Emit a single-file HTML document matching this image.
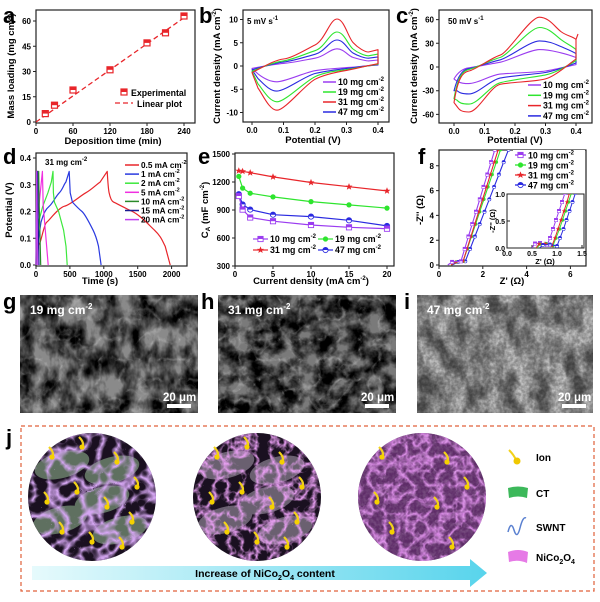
<!DOCTYPE html>
<html><head><meta charset="utf-8"><style>
html,body{margin:0;padding:0;background:#fff;width:600px;height:602px;overflow:hidden}
svg{display:block;font-family:"Liberation Sans",Arial,sans-serif;font-weight:bold}
.t{font-size:8px}.ti{font-size:9.5px}.L{font-size:22px}.lg{font-size:8.8px}.lgd{font-size:8.2px}
.ax{fill:none;stroke:#222;stroke-width:1.2}
.tk{stroke:#222;stroke-width:1}
</style></head><body>
<svg width="600" height="602" viewBox="0 0 600 602" xmlns="http://www.w3.org/2000/svg">
<defs>
<filter id="sem1" x="0" y="0" width="100%" height="100%"><feTurbulence type="fractalNoise" baseFrequency="0.06 0.04" numOctaves="4" seed="3"/><feColorMatrix type="matrix" values="0 0 0 0 0  0 0 0 0 0  0 0 0 0 0  2.4 0 0 0 -0.75"/></filter>
<filter id="sem2" x="0" y="0" width="100%" height="100%"><feTurbulence type="fractalNoise" baseFrequency="0.06" numOctaves="4" seed="8"/><feColorMatrix type="matrix" values="0 0 0 0 0  0 0 0 0 0  0 0 0 0 0  2.6 0 0 0 -0.8"/></filter>
<filter id="semL" x="0" y="0" width="100%" height="100%"><feTurbulence type="turbulence" baseFrequency="0.05" numOctaves="3" seed="4"/><feColorMatrix type="matrix" values="0 0 0 0 0.85  0 0 0 0 0.85  0 0 0 0 0.85  -2.5 0 0 0 0.55"/></filter>
<filter id="sem3" x="0" y="0" width="100%" height="100%"><feTurbulence type="fractalNoise" baseFrequency="0.3" numOctaves="2" seed="5"/><feColorMatrix type="matrix" values="0 0 0 0 1  0 0 0 0 1  0 0 0 0 1  1.0 0 0 0 -0.3"/></filter>
<filter id="net" x="0" y="0" width="100%" height="100%"><feTurbulence type="turbulence" baseFrequency="0.06" numOctaves="2" seed="2"/><feColorMatrix type="matrix" values="0 0 0 0 0.66  0 0 0 0 0.38  0 0 0 0 0.88  -3 0 0 0 1.1"/></filter>
<filter id="net2" x="0" y="0" width="100%" height="100%"><feTurbulence type="turbulence" baseFrequency="0.07" numOctaves="3" seed="9"/><feColorMatrix type="matrix" values="0 0 0 0 0.82  0 0 0 0 0.35  0 0 0 0 0.9  -3 0 0 0 1.1"/></filter>
<clipPath id="c1"><circle cx="92" cy="497" r="64"/></clipPath>
<clipPath id="c2"><circle cx="257" cy="497" r="64"/></clipPath>
<clipPath id="c3"><circle cx="422" cy="497" r="64"/></clipPath>
<clipPath id="fc"><rect x="439" y="150" width="147" height="116"/></clipPath>
<clipPath id="ic"><rect x="507" y="194" width="77" height="54"/></clipPath>
<linearGradient id="ag" x1="0" x2="1"><stop offset="0" stop-color="#e6fafc"/><stop offset="1" stop-color="#58d4ec"/></linearGradient>
<marker id="mSq" viewBox="-4 -4 8 8" markerWidth="7" markerHeight="7" markerUnits="userSpaceOnUse"><rect x="-3" y="-3" width="6" height="6" fill="#fff" stroke="#9b3cf0"/><rect x="-3" y="-3" width="6" height="3" fill="#9b3cf0"/></marker>
<marker id="mCi" viewBox="-4 -4 8 8" markerWidth="7" markerHeight="7" markerUnits="userSpaceOnUse"><circle r="3" fill="#2ee52e"/></marker>
<marker id="mSt" viewBox="-4 -4 8 8" markerWidth="8" markerHeight="8" markerUnits="userSpaceOnUse"><polygon points="0,-3.6 1,-1.1 3.5,-1.1 1.5,0.5 2.2,3 0,1.5 -2.2,3 -1.5,0.5 -3.5,-1.1 -1,-1.1" fill="#e8252a"/></marker>
<marker id="mHc" viewBox="-4 -4 8 8" markerWidth="7" markerHeight="7" markerUnits="userSpaceOnUse"><circle r="3" fill="#fff" stroke="#2a2ae0"/><path d="M-3,0A3,3 0 0 1 3,0Z" fill="#2a2ae0"/></marker>
<marker id="sSq" viewBox="-4 -4 8 8" markerWidth="4.5" markerHeight="4.5" markerUnits="userSpaceOnUse"><rect x="-3" y="-3" width="6" height="6" fill="#fff" stroke="#9b3cf0"/><rect x="-3" y="-3" width="6" height="3" fill="#9b3cf0"/></marker>
<marker id="sCi" viewBox="-4 -4 8 8" markerWidth="4.5" markerHeight="4.5" markerUnits="userSpaceOnUse"><circle r="3" fill="#2ee52e"/></marker>
<marker id="sSt" viewBox="-4 -4 8 8" markerWidth="5" markerHeight="5" markerUnits="userSpaceOnUse"><polygon points="0,-3.6 1,-1.1 3.5,-1.1 1.5,0.5 2.2,3 0,1.5 -2.2,3 -1.5,0.5 -3.5,-1.1 -1,-1.1" fill="#e8252a"/></marker>
<marker id="sHc" viewBox="-4 -4 8 8" markerWidth="4.5" markerHeight="4.5" markerUnits="userSpaceOnUse"><circle r="3" fill="#fff" stroke="#2a2ae0"/><path d="M-3,0A3,3 0 0 1 3,0Z" fill="#2a2ae0"/></marker>
</defs>

<!-- ===== a ===== -->
<rect class="ax" x="36" y="10" width="159" height="113"/>
<g class="tk"><path d="M36,123v3M73,123v3M110,123v3M147,123v3M184,123v3M33,122h3M33,96.8h3M33,71.5h3M33,46.3h3M33,21h3"/></g>
<g class="t" text-anchor="middle"><text x="36" y="134">0</text><text x="73" y="134">60</text><text x="110" y="134">120</text><text x="147" y="134">180</text><text x="184" y="134">240</text></g>
<g class="t" text-anchor="end"><text x="31" y="125">0</text><text x="31" y="100">15</text><text x="31" y="74.5">30</text><text x="31" y="49.3">45</text><text x="31" y="24">60</text></g>
<path d="M36,122L184,17.7" stroke="#e8252a" stroke-width="1.3" stroke-dasharray="5,3" fill="none"/>
<g fill="#fff" stroke="#e8252a" stroke-width="1.2">
<rect x="42.3" y="110.6" width="6" height="6"/><rect x="51.5" y="102.2" width="6" height="6"/><rect x="70" y="87" width="6" height="6"/><rect x="107" y="66.8" width="6" height="6"/><rect x="144" y="39.9" width="6" height="6"/><rect x="162.5" y="29.8" width="6" height="6"/><rect x="181" y="13" width="6" height="6"/><rect x="121" y="89" width="6" height="6"/></g>
<g fill="#e8252a"><rect x="42.3" y="110.6" width="6" height="3"/><rect x="51.5" y="102.2" width="6" height="3"/><rect x="70" y="87" width="6" height="3"/><rect x="107" y="66.8" width="6" height="3"/><rect x="144" y="39.9" width="6" height="3"/><rect x="162.5" y="29.8" width="6" height="3"/><rect x="181" y="13" width="6" height="3"/><rect x="121" y="89" width="6" height="3"/></g>
<text class="lg" x="131" y="96">Experimental</text>
<path d="M115,103H133" stroke="#e8252a" stroke-width="1.3" stroke-dasharray="5,3"/>
<text class="lg" x="137" y="107">Linear plot</text>
<text class="ti" x="113" y="144" text-anchor="middle">Deposition time (min)</text>
<text class="ti" transform="translate(14,66) rotate(-90)" text-anchor="middle">Mass loading (mg cm<tspan font-size="6" dy="-4">-2</tspan><tspan dy="4">)</tspan></text>
<text class="L" x="3" y="23">a</text>

<!-- ===== b ===== -->
<rect class="ax" x="243" y="10" width="146" height="112"/>
<g class="tk"><path d="M252,122v3M283.5,122v3M315,122v3M346.5,122v3M378,122v3M240,112.5h3M240,89.3h3M240,66h3M240,42.8h3M240,19.5h3"/></g>
<g class="t" text-anchor="middle"><text x="252" y="133">0.0</text><text x="283.5" y="133">0.1</text><text x="315" y="133">0.2</text><text x="346.5" y="133">0.3</text><text x="378" y="133">0.4</text></g>
<g class="t" text-anchor="end"><text x="238" y="115.5">-10</text><text x="238" y="92.3">-5</text><text x="238" y="69">0</text><text x="238" y="45.8">5</text><text x="238" y="22.5">10</text></g>
<g fill="none" stroke-width="1.1" stroke-linejoin="round">
<path stroke="#9b3cf0" d="M252,68.4 C265,66 275,64 283.5,63.4 S305,60 315,58.2 S330,48.8 337,48.8 S348,56 353,57.4 S365,60.9 368.5,60.9 L378,60 L378,65.1 C365,66 355,67 346.5,67.6 S325,69 315,70.7 S285,81.8 277,81.8 S262,77 258,73.9 Z"/>
<path stroke="#2a2ae0" d="M252,69.8 C265,66 275,63 283.5,62.1 S305,57 315,54.3 S330,40 337,40 S348,50 353,53 S365,58.2 368.5,58.2 L378,56.9 L378,64.7 C365,66 355,67.5 346.5,68.5 S325,71 315,73.5 S285,91.1 277,91.1 S262,82 258,78.6 Z"/>
<path stroke="#2ee52e" d="M252,71.3 C265,66 275,62 283.5,60.9 S305,54 315,50.7 S330,32 337,32 S348,45 353,49 S365,55.8 368.5,55.8 L378,54.1 L378,64.3 C365,66 355,68.5 346.5,69.6 S325,72 315,76.7 S285,101.8 277,101.8 S262,88 258,83.9 Z"/>
<path stroke="#e8252a" d="M252,72.6 C265,66 275,60 283.5,59 S305,50 315,45 S330,19 337,19 S348,37 353,42.5 S365,52 368.5,52 L378,49.7 L378,63.7 C365,66 355,69 346.5,70.4 S325,74 315,79.3 S285,110.2 277,110.2 S262,93 258,88.1 Z"/>
</g>
<g stroke-width="1.5"><path d="M323,82H336" stroke="#9b3cf0"/><path d="M323,92H336" stroke="#2ee52e"/><path d="M323,102H336" stroke="#e8252a"/><path d="M323,112H336" stroke="#2a2ae0"/></g>
<g class="lg"><text x="338" y="85">10 mg cm<tspan font-size="6" dy="-4">-2</tspan></text><text x="338" y="95">19 mg cm<tspan font-size="6" dy="-4">-2</tspan></text><text x="338" y="105">31 mg cm<tspan font-size="6" dy="-4">-2</tspan></text><text x="338" y="115">47 mg cm<tspan font-size="6" dy="-4">-2</tspan></text></g>
<text class="t" x="247" y="24">5 mV s<tspan font-size="6" dy="-4">-1</tspan></text>
<text class="ti" x="313" y="143" text-anchor="middle">Potential (V)</text>
<text class="ti" transform="translate(220,66) rotate(-90)" text-anchor="middle">Current density (mA cm<tspan font-size="6" dy="-4">-2</tspan><tspan dy="4">)</tspan></text>
<text class="L" x="199" y="23">b</text>

<!-- ===== c ===== -->
<rect class="ax" x="439" y="10" width="153" height="113"/>
<g class="tk"><path d="M454,123v3M484.5,123v3M515,123v3M545.5,123v3M576,123v3M436,114.4h3M436,90.7h3M436,67h3M436,43.3h3M436,19.6h3"/></g>
<g class="t" text-anchor="middle"><text x="454" y="134">0.0</text><text x="484.5" y="134">0.1</text><text x="515" y="134">0.2</text><text x="545.5" y="134">0.3</text><text x="576" y="134">0.4</text></g>
<g class="t" text-anchor="end"><text x="434" y="117.4">-60</text><text x="434" y="93.7">-30</text><text x="434" y="70">0</text><text x="434" y="46.3">30</text><text x="434" y="22.6">60</text></g>
<g fill="none" stroke-width="1.1" stroke-linejoin="round">
<path stroke="#9b3cf0" d="M454,78.9 C458,72 463,68.5 469,67.8 S492,63.5 500,62.3 S530,49.6 539.4,49.6 S555,51.5 560.8,52.8 S572,56 576,57.5 L576,64.6 C565,67 555,69.5 545.5,71 S510,73 500,74.1 S478,83.6 469,83.6 S459,82 457,81.2 Z"/>
<path stroke="#2a2ae0" d="M454,90.7 C458,75 463,69.5 469,68.6 S492,61.5 500,59.9 S530,40.9 539.4,40.9 S555,44 560.8,46.5 S572,51 576,53.6 L576,63 C565,67 555,71 545.5,72.5 S510,76 500,78.1 S478,93.9 469,93.9 S459,92 457,90.7 Z"/>
<path stroke="#2ee52e" d="M454,98.6 C458,76 463,70.5 469,69.4 S492,59.5 500,57.5 S530,27.5 539.4,27.5 S555,35 560.8,39.4 S572,46 576,49.6 L576,60.7 C565,67 555,73 545.5,74.9 S510,80 500,82.8 S478,104.1 469,104.1 S459,102 457,100.2 Z"/>
<path stroke="#e8252a" d="M454,102.6 C458,77 463,72 469,71 S492,57.5 500,55.2 S530,17.2 539.4,17.2 S555,27 560.8,31.5 S572,36 576,39.4 L576,59.1 C565,67 555,76 545.5,78.9 S510,82 500,84.4 S478,112 469,112 S459,109 457,106.5 Z"/>
<path stroke="#e8252a" d="M576,39.4L578,34"/>
</g>
<g stroke-width="1.5"><path d="M528,85H541" stroke="#9b3cf0"/><path d="M528,95.3H541" stroke="#2ee52e"/><path d="M528,105.6H541" stroke="#e8252a"/><path d="M528,115.9H541" stroke="#2a2ae0"/></g>
<g class="lg"><text x="543" y="88">10 mg cm<tspan font-size="6" dy="-4">-2</tspan></text><text x="543" y="98.3">19 mg cm<tspan font-size="6" dy="-4">-2</tspan></text><text x="543" y="108.6">31 mg cm<tspan font-size="6" dy="-4">-2</tspan></text><text x="543" y="118.9">47 mg cm<tspan font-size="6" dy="-4">-2</tspan></text></g>
<text class="t" x="448" y="24">50 mV s<tspan font-size="6" dy="-4">-1</tspan></text>
<text class="ti" x="515" y="143" text-anchor="middle">Potential (V)</text>
<text class="ti" transform="translate(417,66) rotate(-90)" text-anchor="middle">Current density (mA cm<tspan font-size="6" dy="-4">-2</tspan><tspan dy="4">)</tspan></text>
<text class="L" x="396" y="23">c</text>

<!-- ===== d ===== -->
<rect class="ax" x="36" y="153" width="151" height="113"/>
<g class="tk"><path d="M36,266v3M69.9,266v3M103.8,266v3M137.7,266v3M171.6,266v3M33,265h3M33,238.3h3M33,211.5h3M33,184.8h3M33,158h3"/></g>
<g class="t" text-anchor="middle"><text x="36" y="277">0</text><text x="69.9" y="277">500</text><text x="103.8" y="277">1000</text><text x="137.7" y="277">1500</text><text x="171.6" y="277">2000</text></g>
<g class="t" text-anchor="end"><text x="31" y="268">0.0</text><text x="31" y="241.3">0.1</text><text x="31" y="214.5">0.2</text><text x="31" y="187.8">0.3</text><text x="31" y="161">0.4</text></g>
<g fill="none" stroke-width="1.2" stroke-linejoin="round">
<path stroke="#e8252a" d="M36,265 C37,250 38,245 39.5,243.6 S44,224 46.7,222.2 S58,208 64.5,206.2 S80,196 85.8,192.8 S97,184 100.1,182.1 L107.2,171.4 C108,185 108.5,190 109.1,192.8 S111,201 113.5,202.1 S125,208 132.4,211.5 S148,224 154.5,230.2 S162,240 165.2,246.3 L170.2,265"/>
<path stroke="#2a3ae0" d="M36,265 L37.7,243.6 L41,222.2 C44,212 46,209 49.3,206.2 S56,196 59.3,192.8 S64,184 65.9,182.1 L69.2,171.4 L70.2,192.8 L72.4,202.1 C76,206 79,209 82,211.5 S90,224 93.1,230.2 S97,240 98.5,246.3 L101.1,265"/>
<path stroke="#3de83d" d="M36,265 L36.8,243.6 L38.5,222.2 L42.8,206.2 L47.9,192.8 L51.3,182.1 L53,171.4 L53.4,192.8 L54.4,202.1 L58.6,211.5 L63.6,230.2 L66,246.3 L67.2,265"/>
<path stroke="#f030e0" d="M36,265 L37,225 L42.4,171.4 L43.2,205 L48.2,265"/>
<path stroke="#2a8a2a" d="M36,265 L36.5,220 L38.7,171.4 L39.2,205 L40.7,265"/>
<path stroke="#1a1a90" d="M36,265 L36.3,220 L37.5,171.4 L37.9,205 L39,265"/>
<path stroke="#c040f0" d="M36,265 L36.7,171.4 L37.7,265"/>
</g>
<g stroke-width="1.5"><path d="M125,165H139" stroke="#e8252a"/><path d="M125,174.1H139" stroke="#2a3ae0"/><path d="M125,183.2H139" stroke="#3de83d"/><path d="M125,192.3H139" stroke="#f030e0"/><path d="M125,201.4H139" stroke="#2a8a2a"/><path d="M125,210.5H139" stroke="#1a1a90"/><path d="M125,219.6H139" stroke="#c040f0"/></g>
<g class="lgd"><text x="141" y="168">0.5 mA cm<tspan font-size="5.5" dy="-4">-2</tspan></text><text x="141" y="177.1">1 mA cm<tspan font-size="5.5" dy="-4">-2</tspan></text><text x="141" y="186.2">2 mA cm<tspan font-size="5.5" dy="-4">-2</tspan></text><text x="141" y="195.3">5 mA cm<tspan font-size="5.5" dy="-4">-2</tspan></text><text x="141" y="204.4">10 mA cm<tspan font-size="5.5" dy="-4">-2</tspan></text><text x="141" y="213.5">15 mA cm<tspan font-size="5.5" dy="-4">-2</tspan></text><text x="141" y="222.6">20 mA cm<tspan font-size="5.5" dy="-4">-2</tspan></text></g>
<text class="t" x="45" y="165">31 mg cm<tspan font-size="6" dy="-4">-2</tspan></text>
<text class="ti" x="100" y="284" text-anchor="middle">Time (s)</text>
<text class="ti" transform="translate(12,210) rotate(-90)" text-anchor="middle">Potential (V)</text>
<text class="L" x="3" y="164">d</text>

<!-- ===== e ===== -->
<rect class="ax" x="235" y="153" width="159" height="113"/>
<g class="tk"><path d="M235,266v3M273,266v3M311,266v3M349,266v3M387,266v3M232,266h3M232,238h3M232,210h3M232,182h3M232,154h3"/></g>
<g class="t" text-anchor="middle"><text x="235" y="277">0</text><text x="273" y="277">5</text><text x="311" y="277">10</text><text x="349" y="277">15</text><text x="387" y="277">20</text></g>
<g class="t" text-anchor="end"><text x="230" y="269">300</text><text x="230" y="241">600</text><text x="230" y="213">900</text><text x="230" y="185">1200</text><text x="230" y="157">1500</text></g>
<g fill="none" stroke-width="1.2">
<polyline stroke="#e8252a" points="238.8,170.8 242.6,171.3 250.2,172.7 273,176.9 311,182.5 349,186.7 387,190.9" marker-start="url(#mSt)" marker-mid="url(#mSt)" marker-end="url(#mSt)"/>
<polyline stroke="#2ee52e" points="238.8,176.4 242.6,188.1 250.2,193.2 273,196.9 311,201.6 349,204.9 387,208.1" marker-start="url(#mCi)" marker-mid="url(#mCi)" marker-end="url(#mCi)"/>
<polyline stroke="#2a2ae0" points="238.8,194.2 242.6,204.4 250.2,209.6 273,214.7 311,216.6 349,220.3 387,225.9" marker-start="url(#mHc)" marker-mid="url(#mHc)" marker-end="url(#mHc)"/>
<polyline stroke="#9b3cf0" points="238.8,196 242.6,209.6 250.2,217.5 273,221.2 311,225 349,227.3 387,228.7" marker-start="url(#mSq)" marker-mid="url(#mSq)" marker-end="url(#mSq)"/>
<polyline stroke="#9b3cf0" points="253,239 260.5,239 268,239" marker-mid="url(#mSq)"/>
<polyline stroke="#2ee52e" points="318,239 325.5,239 333,239" marker-mid="url(#mCi)"/>
<polyline stroke="#e8252a" points="253,250 260.5,250 268,250" marker-mid="url(#mSt)"/>
<polyline stroke="#2a2ae0" points="318,250 325.5,250 333,250" marker-mid="url(#mHc)"/>
</g>
<g class="lg"><text x="270" y="242">10 mg cm<tspan font-size="6" dy="-4">-2</tspan></text><text x="335" y="242">19 mg cm<tspan font-size="6" dy="-4">-2</tspan></text><text x="270" y="253">31 mg cm<tspan font-size="6" dy="-4">-2</tspan></text><text x="335" y="253">47 mg cm<tspan font-size="6" dy="-4">-2</tspan></text></g>
<text class="ti" x="311" y="284" text-anchor="middle">Current density (mA cm<tspan font-size="6" dy="-4">-2</tspan><tspan dy="4">)</tspan></text>
<text class="ti" transform="translate(208,210) rotate(-90)" text-anchor="middle">C<tspan font-size="6.5" dy="2">A</tspan><tspan dy="-2"> (mF cm</tspan><tspan font-size="6" dy="-4">-2</tspan><tspan dy="4">)</tspan></text>
<text class="L" x="198" y="164">e</text>

<!-- ===== f ===== -->
<rect class="ax" x="439" y="150" width="147" height="116"/>
<g class="tk"><path d="M439,266v3M482.8,266v3M526.6,266v3M570.4,266v3M436,265h3M436,240.2h3M436,215.4h3M436,190.6h3M436,165.8h3"/></g>
<g class="t" text-anchor="middle"><text x="439" y="277">0</text><text x="482.8" y="277">2</text><text x="526.6" y="277">4</text><text x="570.4" y="277">6</text></g>
<g class="t" text-anchor="end"><text x="434" y="268">0</text><text x="434" y="243.2">2</text><text x="434" y="218.4">4</text><text x="434" y="193.6">6</text><text x="434" y="168.8">8</text></g>
<g clip-path="url(#fc)" fill="none" stroke-width="1.1">
<polyline stroke="#2a2ae0" points="452.1,265 458,262 465.3,261.3 470.1,248.9 474.9,236.5 479.7,224.1 484.5,211.7 489.3,199.3 494.1,186.9 498.9,174.5 503.7,162.1 508.5,149.7 513,137" marker-mid="url(#sHc)"/>
<polyline stroke="#2ee52e" points="451,265 456,262 463.1,261.3 467.3,248.9 471.4,236.5 475.6,224.1 479.7,211.7 483.9,199.3 488,186.9 492.2,174.5 496.4,162.1 500.5,149.7 505,137" marker-mid="url(#sCi)"/>
<polyline stroke="#e8252a" points="451,265 456,262 463.1,261.3 467,248.9 470.9,236.5 474.8,224.1 478.7,211.7 482.6,199.3 486.5,186.9 490.4,174.5 494.3,162.1 498.2,149.7 502,137" marker-mid="url(#sSt)"/>
<polyline stroke="#9b3cf0" points="447.8,265 452.1,261.9 460.9,261.3 464.7,248.9 468.4,236.5 472.2,224.1 476,211.7 479.8,199.3 483.5,186.9 487.3,174.5 491.1,162.1 494.8,149.7 499,137" marker-mid="url(#sSq)"/>
</g>
<rect x="513" y="150" width="72" height="40" fill="#fff"/>
<g fill="none" stroke-width="1.3">
<polyline stroke="#9b3cf0" points="515,155 520.5,155 526,155" marker-mid="url(#mSq)"/>
<polyline stroke="#2ee52e" points="515,165 520.5,165 526,165" marker-mid="url(#mCi)"/>
<polyline stroke="#e8252a" points="515,175 520.5,175 526,175" marker-mid="url(#mSt)"/>
<polyline stroke="#2a2ae0" points="515,185 520.5,185 526,185" marker-mid="url(#mHc)"/>
</g>
<g class="lg"><text x="528" y="158.5">10 mg cm<tspan font-size="6" dy="-4">-2</tspan></text><text x="528" y="168.5">19 mg cm<tspan font-size="6" dy="-4">-2</tspan></text><text x="528" y="178.5">31 mg cm<tspan font-size="6" dy="-4">-2</tspan></text><text x="528" y="188.5">47 mg cm<tspan font-size="6" dy="-4">-2</tspan></text></g>
<rect x="507" y="194" width="77" height="54" fill="#fff" stroke="#222"/>
<g class="tk"><path d="M507,248v-3M532,248v-3M557,248v-3M582,248v-3M507,248h3M507,221h3M507,194h3"/></g>
<g font-size="7" text-anchor="middle"><text x="507" y="256">0.0</text><text x="532" y="256">0.5</text><text x="557" y="256">1.0</text><text x="582" y="256">1.5</text></g>
<g font-size="7" text-anchor="end"><text x="505" y="251">0.0</text><text x="505" y="224">0.5</text><text x="505" y="197">1.0</text></g>
<text font-size="7.5" x="545" y="264" text-anchor="middle">Z' (Ω)</text>
<text font-size="7.5" transform="translate(495,221) rotate(-90)" text-anchor="middle">-Z'' (Ω)</text>
<g clip-path="url(#ic)" fill="none" stroke-width="1">
<polyline stroke="#9b3cf0" points="532,248 535,243.5 540,243 547,245 550,238 553,229 556,220 559,211 562,202 565,193 567,186" marker-mid="url(#sSq)"/>
<polyline stroke="#2ee52e" points="537,248 540,244 546,243.5 553,245.5 556,238 559.5,229 562.5,220 565.5,211 568.5,202 571.5,193 573,186" marker-mid="url(#sCi)"/>
<polyline stroke="#e8252a" points="536,248 539,244 545,243.5 552,245.5 555,238 558,229 561,220 564,211 567,202 569.5,193 571,186" marker-mid="url(#sSt)"/>
<polyline stroke="#2a2ae0" points="539.5,248 543,245 550,244.5 557,246 560,238 563.5,229 566.5,220 569.5,211 572.5,202 575.5,193 577,186" marker-mid="url(#sHc)"/>
</g>
<text class="ti" x="512" y="284" text-anchor="middle">Z' (Ω)</text>
<text class="ti" transform="translate(423,210) rotate(-90)" text-anchor="middle">-Z'' (Ω)</text>
<text class="L" x="418" y="164">f</text>

<!-- ===== SEM ===== -->
<rect x="20" y="295" width="178" height="118" fill="#8a8a8a"/><rect x="20" y="295" width="178" height="118" filter="url(#sem1)"/><rect x="20" y="295" width="178" height="118" filter="url(#semL)" opacity="0.5"/>
<rect x="218" y="295" width="178" height="118" fill="#7a7a7a"/><rect x="218" y="295" width="178" height="118" filter="url(#sem2)"/><rect x="218" y="295" width="178" height="118" filter="url(#semL)" opacity="0.6"/>
<rect x="417" y="295" width="176" height="118" fill="#909090"/><rect x="417" y="295" width="176" height="118" filter="url(#sem3)"/><rect x="417" y="295" width="176" height="118" filter="url(#sem1)" opacity="0.55"/>
<g font-size="12" fill="#fff">
<text x="30" y="314">19 mg cm<tspan font-size="8" dy="-5">-2</tspan></text>
<text x="228" y="314">31 mg cm<tspan font-size="8" dy="-5">-2</tspan></text>
<text x="427" y="314">47 mg cm<tspan font-size="8" dy="-5">-2</tspan></text>
<text x="163" y="401" font-size="11.5">20 μm</text><text x="361" y="401" font-size="11.5">20 μm</text><text x="558" y="401" font-size="11.5">20 μm</text></g>
<g fill="#fff"><rect x="167" y="404" width="24" height="4"/><rect x="365" y="404" width="24" height="4"/><rect x="562" y="404" width="24" height="4"/></g>
<text class="L" x="3" y="309">g</text><text class="L" x="201" y="309">h</text><text class="L" x="404" y="309">i</text>

<!-- ===== j ===== -->
<rect x="21" y="426" width="573" height="165" fill="none" stroke="#e0603a" stroke-width="1.2" stroke-dasharray="4,3"/>
<text class="L" x="6" y="445">j</text>
<g clip-path="url(#c1)">
<rect x="27" y="432" width="130" height="130" fill="#1a1020"/>
<g fill="#5f7060"><ellipse cx="62" cy="465" rx="28" ry="13" transform="rotate(-15 62 465)"/><ellipse cx="112" cy="470" rx="28" ry="13" transform="rotate(-15 112 470)"/><ellipse cx="60" cy="520" rx="28" ry="13" transform="rotate(-15 60 520)"/><ellipse cx="102" cy="500" rx="28" ry="13" transform="rotate(-15 102 500)"/><ellipse cx="120" cy="530" rx="28" ry="13" transform="rotate(-15 120 530)"/></g>
<rect x="27" y="432" width="130" height="130" filter="url(#net)"/>
</g>
<g clip-path="url(#c2)">
<rect x="192" y="432" width="130" height="130" fill="#1a1020"/>
<g fill="#6a6070"><ellipse cx="227" cy="465" rx="28" ry="13" transform="rotate(-15 227 465)"/><ellipse cx="277" cy="470" rx="28" ry="13" transform="rotate(-15 277 470)"/><ellipse cx="225" cy="520" rx="28" ry="13" transform="rotate(-15 225 520)"/><ellipse cx="267" cy="500" rx="28" ry="13" transform="rotate(-15 267 500)"/><ellipse cx="285" cy="530" rx="28" ry="13" transform="rotate(-15 285 530)"/></g>
<rect x="192" y="432" width="130" height="130" filter="url(#net2)"/>
</g>
<g clip-path="url(#c3)">
<rect x="357" y="432" width="130" height="130" fill="#2a1030"/>
<rect x="357" y="432" width="130" height="130" filter="url(#net2)"/>
<rect x="357" y="432" width="130" height="130" fill="#c060d0" opacity="0.35"/>
<rect x="357" y="432" width="130" height="130" filter="url(#sem3)" opacity="0.3"/>
</g>
<g stroke="#f2d21a" stroke-width="2.2" fill="none">
<path d="M49,447q6,6 3,10M79,437q6,6 3,10M114,452q6,6 3,10M134,477q6,6 3,10M44,492q6,6 3,10M74,482q6,6 3,10M104,497q6,6 3,10M129,512q6,6 3,10M59,522q6,6 3,10M89,532q6,6 3,10M119,537q6,6 3,10"/>
<path d="M214,447q6,6 3,10M244,437q6,6 3,10M279,452q6,6 3,10M299,477q6,6 3,10M209,492q6,6 3,10M239,482q6,6 3,10M269,497q6,6 3,10M294,512q6,6 3,10M224,522q6,6 3,10M254,532q6,6 3,10M284,537q6,6 3,10"/>
<path d="M379,447q6,6 3,10M444,452q6,6 3,10M464,477q6,6 3,10M374,492q6,6 3,10M434,497q6,6 3,10M389,522q6,6 3,10M449,537q6,6 3,10"/>
</g>
<g fill="#f5d000">
<circle cx="52" cy="457" r="2.6"/><circle cx="82" cy="447" r="2.6"/><circle cx="117" cy="462" r="2.6"/><circle cx="137" cy="487" r="2.6"/><circle cx="47" cy="502" r="2.6"/><circle cx="77" cy="492" r="2.6"/><circle cx="107" cy="507" r="2.6"/><circle cx="132" cy="522" r="2.6"/><circle cx="62" cy="532" r="2.6"/><circle cx="92" cy="542" r="2.6"/><circle cx="122" cy="547" r="2.6"/>
<circle cx="217" cy="457" r="2.6"/><circle cx="247" cy="447" r="2.6"/><circle cx="282" cy="462" r="2.6"/><circle cx="302" cy="487" r="2.6"/><circle cx="212" cy="502" r="2.6"/><circle cx="242" cy="492" r="2.6"/><circle cx="272" cy="507" r="2.6"/><circle cx="297" cy="522" r="2.6"/><circle cx="227" cy="532" r="2.6"/><circle cx="257" cy="542" r="2.6"/><circle cx="287" cy="547" r="2.6"/>
<circle cx="382" cy="457" r="2.6"/><circle cx="447" cy="462" r="2.6"/><circle cx="467" cy="487" r="2.6"/><circle cx="377" cy="502" r="2.6"/><circle cx="437" cy="507" r="2.6"/><circle cx="392" cy="532" r="2.6"/><circle cx="452" cy="547" r="2.6"/></g>
<path d="M32,566H470V559L487,573L470,587V580H32Z" fill="url(#ag)"/>
<text x="265" y="577" font-size="10.5" text-anchor="middle">Increase of NiCo<tspan font-size="7" dy="3">2</tspan><tspan dy="-3">O</tspan><tspan font-size="7" dy="3">4</tspan><tspan dy="-3"> content</tspan></text>
<path d="M509,450Q514,455 516,460" stroke="#f2d21a" stroke-width="2" fill="none"/><circle cx="517" cy="461" r="3.5" fill="#f0c800"/><text x="536" y="461" font-size="10">Ion</text>
<path d="M508,488Q518,485 528,488L527,498Q518,495 509,498Z" fill="#3cb85a"/><text x="536" y="497" font-size="10">CT</text>
<path d="M508,532Q511,520 514,530T520,528T526,518" stroke="#5a80d0" stroke-width="1.5" fill="none"/><text x="536" y="531" font-size="10">SWNT</text>
<path d="M508,552Q518,548 528,552L527,563Q518,559 509,562Z" fill="#e67ae6"/><text x="536" y="561" font-size="10">NiCo<tspan font-size="7" dy="3">2</tspan><tspan dy="-3">O</tspan><tspan font-size="7" dy="3">4</tspan></text>
</svg>
</body></html>
